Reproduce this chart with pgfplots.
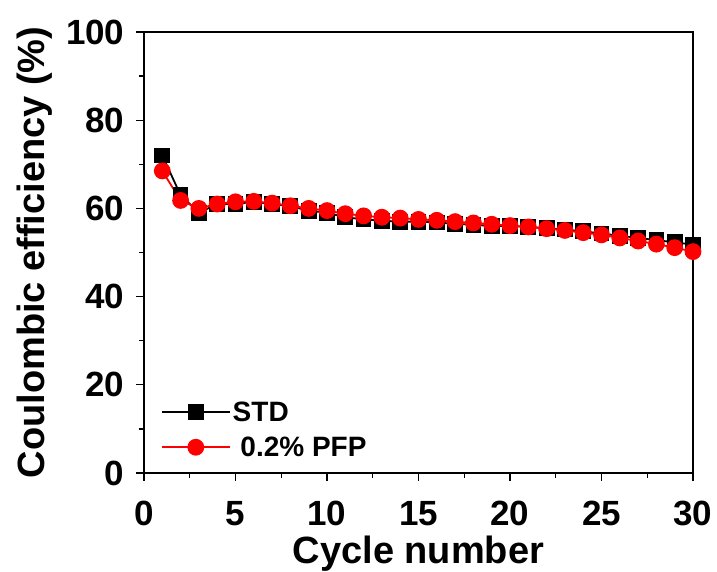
\documentclass[border=0pt]{standalone}
\usepackage{pgfplots}
\pgfplotsset{compat=1.18}
\usepackage{fontspec}
\setmainfont{Liberation Sans}
\begin{document}
\begin{tikzpicture}
\path[use as bounding box] (-144pt,-99pt) rectangle (573pt,473pt);
\begin{axis}[
  at={(0,0)}, anchor=south west,
  width=549pt, height=441pt, scale only axis,
  xmin=0, xmax=30, ymin=0, ymax=100,
  xtick={0,5,...,30}, ytick={0,20,...,100},
  minor x tick num=1, minor y tick num=1,
  tick align=outside, xtick pos=bottom, ytick pos=left,
  major tick length=8pt, minor tick length=5pt,
  axis line style={line width=1.3pt}, tick style={line width=1.3pt, black},
  ticklabel style={font=\fontsize{35}{37}\selectfont\bfseries},
  xticklabel style={yshift=-17pt}, yticklabel style={xshift=-8pt},
  /pgf/number format/assume math mode=true,
  label style={font=\fontsize{38}{42}\selectfont\bfseries},
  xlabel={Cycle number}, ylabel={Coulombic efficiency (\%)},
  xlabel style={yshift=-3pt}, ylabel style={yshift=7pt},
  legend style={draw=none, fill=none, at={(0.025,0.025)}, anchor=south west,
    font=\fontsize{28}{32}\selectfont\bfseries, row sep=10pt},
  legend cell align=left,
  legend image code/.code={
    \draw[#1, line width=1.5pt] (0pt,0pt) -- (68pt,0pt);
    \draw[#1, mark repeat=2, mark phase=2] plot coordinates {(0pt,0pt) (34pt,0pt) (68pt,0pt)};
  },
]
\addplot[black, line width=1.8pt, mark=square*, mark size=7pt] coordinates {
(1,72) (2,63) (3,59) (4,61) (5,61) (6,61.5) (7,61) (8,60.5) (9,59.5) (10,59)
(11,58) (12,57.5) (13,57.2) (14,57) (15,57) (16,56.8) (17,56.5) (18,56.3) (19,56) (20,56)
(21,55.8) (22,55.5) (23,55.2) (24,54.8) (25,54.3) (26,53.8) (27,53.3) (28,52.8) (29,52.3) (30,51.8)
};
\addlegendentry{STD}
\addplot[red, line width=1.8pt, mark=*, mark size=7.5pt] coordinates {
(1,68.5) (2,61.8) (3,60) (4,61) (5,61.5) (6,61.6) (7,61.2) (8,60.6) (9,60) (10,59.5)
(11,58.8) (12,58.3) (13,58) (14,57.8) (15,57.5) (16,57.3) (17,57) (18,56.7) (19,56.4) (20,56.1)
(21,55.8) (22,55.4) (23,55) (24,54.5) (25,54) (26,53.3) (27,52.6) (28,51.9) (29,51.1) (30,50.2)
};
\addlegendentry{\ 0.2\% PFP}
\end{axis}
\end{tikzpicture}
\end{document}
